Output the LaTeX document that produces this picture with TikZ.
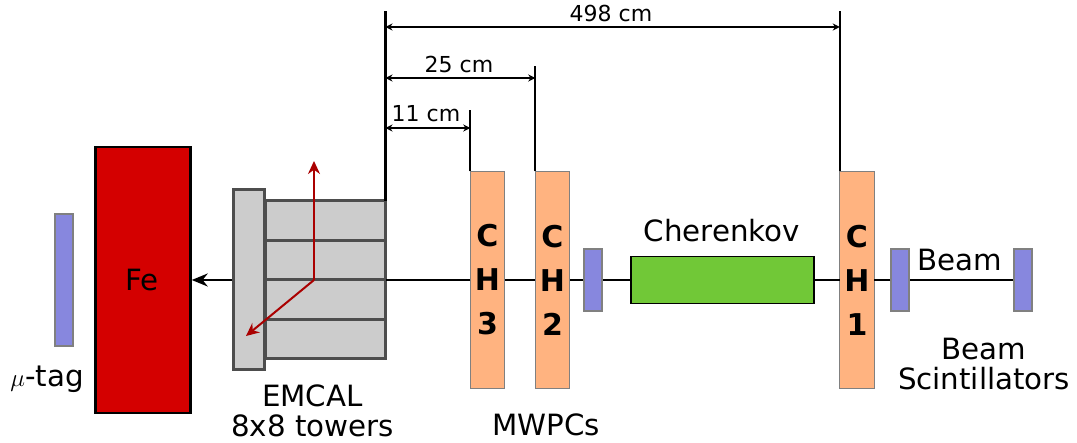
\documentclass[tikz,border=0pt]{standalone}
\usepackage{fontspec}
\setmainfont{DejaVu Sans}
\usetikzlibrary{arrows.meta}

\definecolor{feRed}{HTML}{D40000}
\definecolor{scintBlue}{HTML}{8787DE}
\definecolor{chOrange}{HTML}{FFB380}
\definecolor{cherGreen}{HTML}{71C837}
\definecolor{calGray}{HTML}{CCCCCC}
\definecolor{calEdge}{HTML}{4D4D4D}
\definecolor{arrowRed}{HTML}{AA0000}

\begin{document}
\begin{tikzpicture}[
    x=1pt, y=-1pt,
    scint/.style={rectangle, draw=gray, fill=scintBlue, line width=1.2pt, inner sep=0pt,
                minimum width=18pt, minimum height=62pt},
    chamber/.style={rectangle, draw=gray, fill=chOrange, line width=1.2pt, inner sep=0pt,
                outer sep=0pt, minimum width=34.5pt, minimum height=217pt, align=center,
                font=\fontsize{30}{44}\selectfont\bfseries},
    tower/.style={rectangle, draw=calEdge, fill=calGray, line width=3pt, inner sep=0pt,
                outer sep=0pt, minimum width=120pt, minimum height=39.5pt},
    lbl/.style={inner sep=0pt, align=center, font=\fontsize{29.3}{29.5}\selectfont},
    dimlbl/.style={inner sep=0pt, font=\fontsize{22}{26}\selectfont},
    beam/.style={line width=2.4pt},
    ext/.style={line width=2.4pt},
    dimarr/.style={{Stealth[length=7pt,width=7pt]}-{Stealth[length=7pt,width=7pt]}, line width=2pt},
    track/.style={-{Stealth[length=13pt,width=12pt]}, draw=arrowRed, line width=2pt},
]
\useasboundingbox (0,0) rectangle (1077,443);

% --- Absorber and muon tag ---
\node[scint, minimum height=132pt] (mutag) at (64,280) {};
\node[rectangle, draw=black, fill=feRed, line width=2.5pt, inner sep=0pt,
      minimum width=95pt, minimum height=266pt] (fe) at (143,280) {};
\node[lbl] (felbl) at (142,280) {Fe};
\node[lbl] (mulbl) at (47,379) {$\mu$-tag};

% --- EMCAL ---
\node[tower] (tow1) at (325.5,220.5) {};
\node[tower] (tow2) at (325.5,260) {};
\node[tower] (tow3) at (325.5,299.5) {};
\node[tower] (tow4) at (325.5,339) {};
\node[rectangle, draw=calEdge, fill=calGray, line width=3pt, inner sep=0pt,
      minimum width=31pt, minimum height=180pt] (front) at (249,280) {};
\node[lbl] (emlbl) at (312.5,411) {EMCAL\\8x8 towers};

% --- Chambers ---
\node[chamber] (ch3) at (487.5,280) {C\\H\\3};
\node[chamber] (ch2) at (552.5,280) {C\\H\\2};
\node[chamber] (ch1) at (857,280) {C\\H\\1};
\node[lbl] (mwpclbl) at (546,425) {MWPCs};

% --- Beam line elements ---
\node[scint] (sc3) at (593,280) {};
\node[scint] (sc2) at (900,280) {};
\node[scint] (sc1) at (1023,280) {};
\node[rectangle, draw=black, fill=cherGreen, line width=1.8pt, inner sep=0pt,
      minimum width=183pt, minimum height=47pt] (cher) at (722.5,280) {};
\node[lbl] (cherlbl) at (722,231) {Cherenkov};
\node[lbl] (beamlbl) at (960,260) {Beam};
\node[lbl] (scintlbl) at (984,364) {Beam\\Scintillators};

\draw[beam] (sc1) -- (sc2);
\draw[beam] (sc2) -- (ch1);
\draw[beam] (ch1) -- (cher);
\draw[beam] (cher) -- (sc3);
\draw[beam] (sc3) -- (ch2);
\draw[beam] (ch2) -- (ch3);
\draw[beam] (ch3.west) -- (ch3.west -| tow2.east);
\draw[beam, -{Stealth[length=16pt,width=13pt]}] (front) -- (fe);

% --- Distances ---
\coordinate (top0) at (tow1.north east |- 0,11);
\coordinate (top3) at (ch3.north west |- 0,110);
\coordinate (top2) at (ch2.north west |- 0,66);
\coordinate (top1) at (ch1.north west |- 0,11);
\coordinate (d1l) at (top0 |- 0,27);
\coordinate (d1r) at (top1 |- 0,27);
\coordinate (d2l) at (top0 |- 0,78);
\coordinate (d2r) at (top2 |- 0,78);
\coordinate (d3l) at (top0 |- 0,128);
\coordinate (d3r) at (top3 |- 0,128);
\draw[ext] (tow1.north east) -- (top0);
\draw[ext] (ch3.north west) -- (top3);
\draw[ext] (ch2.north west) -- (top2);
\draw[ext] (ch1.north west) -- (top1);
\draw[dimarr] (d1l) -- (d1r);
\draw[dimarr] (d2l) -- (d2r);
\draw[dimarr] (d3l) -- (d3r);
\node[dimlbl] (d1lbl) at (611,13) {498 cm};
\node[dimlbl] (d2lbl) at (459,64) {25 cm};
\node[dimlbl] (d3lbl) at (426,114) {11 cm};

% --- Tracks in the EMCAL ---
\coordinate (vtx) at (314,280);
\coordinate (up) at (314,161);
\coordinate (down) at (246,336);
\draw[track] (vtx) -- (up);
\draw[track] (vtx) -- (down);

\end{tikzpicture}
\end{document}
